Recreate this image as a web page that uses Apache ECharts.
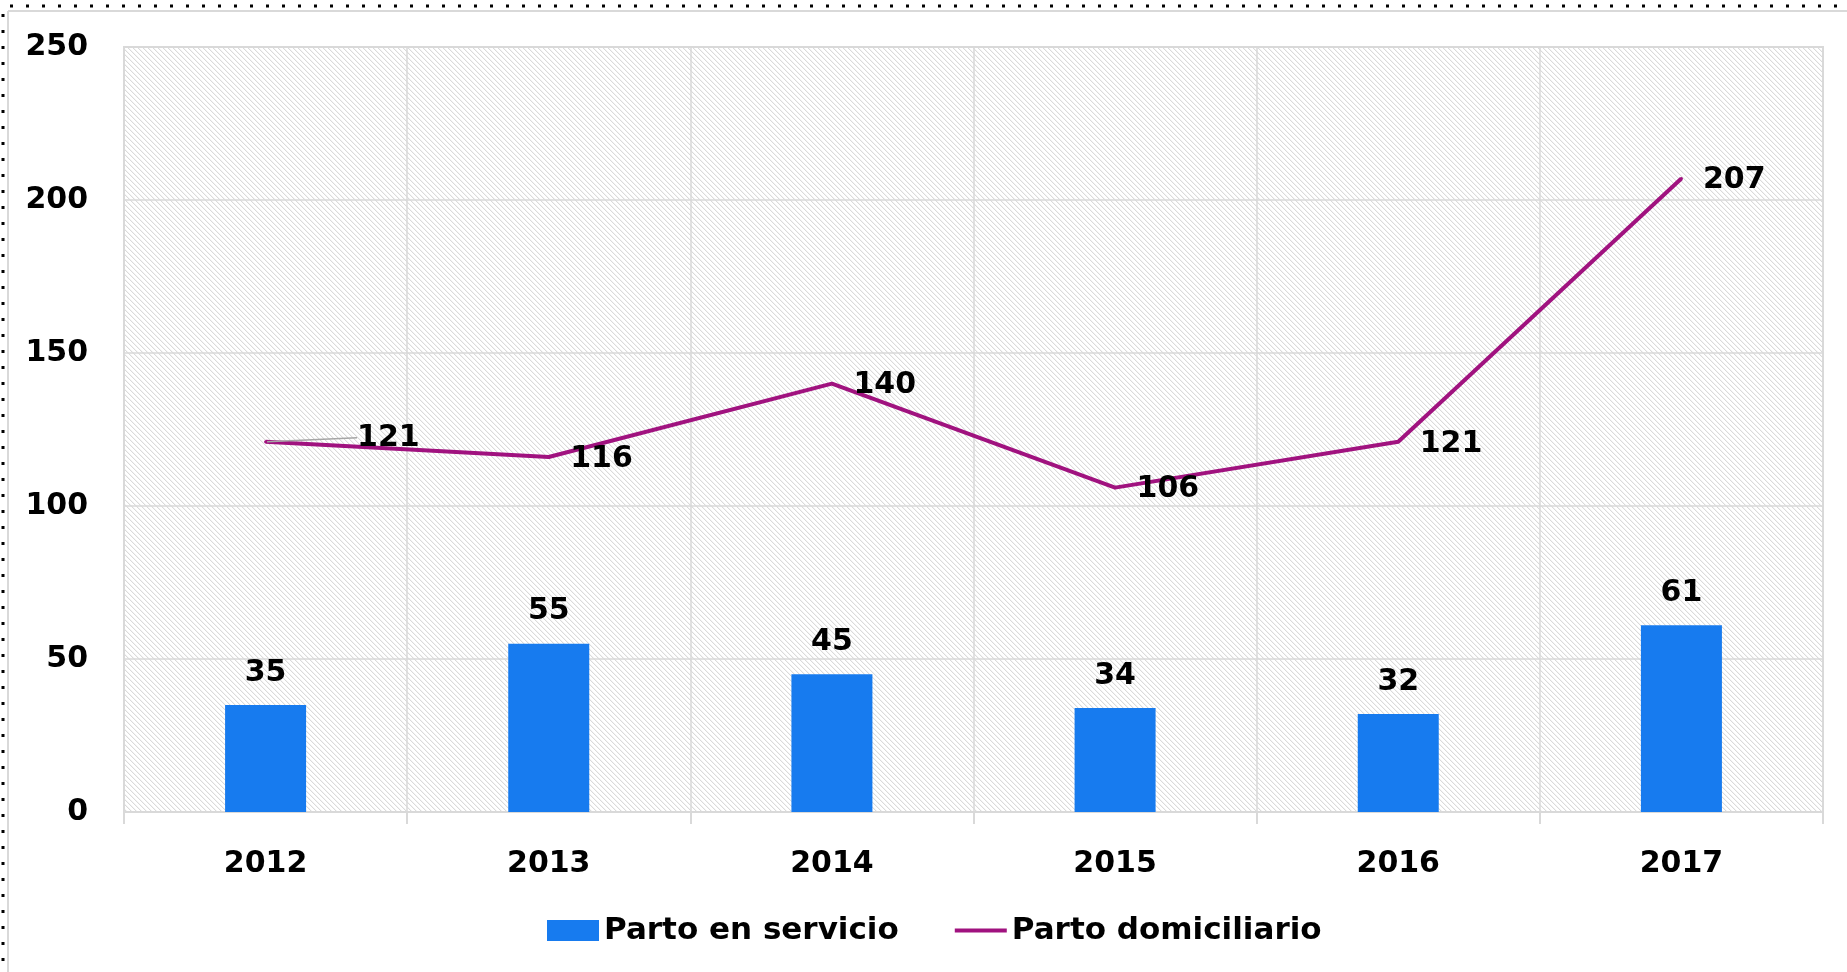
<!DOCTYPE html>
<html>
<head>
<meta charset="utf-8">
<script src="https://cdn.jsdelivr.net/npm/echarts@6/dist/echarts.min.js"></script>
<style>
    html, body { margin: 0; padding: 0; background: #fff; }
    #chart { width: 1847px; height: 972px; }
</style>
</head>
<body>
<div id="chart"></div>
<script>
    var years = ['2012', '2013', '2014', '2015', '2016', '2017'];
    var partoServicio = [35, 55, 45, 34, 32, 61];
    var partoDomiciliario = [121, 116, 140, 106, 121, 207];
    var seriesNames = ['Parto en servicio', 'Parto domiciliario'];
    var yTicks = [0, 50, 100, 150, 200, 250];

    var font = 'DejaVu Sans';
    var gridColor = '#d9d9d9';

    // hatch pattern for the plot background
    function hatch() {
        var p = 5;
        var c = document.createElement('canvas');
        c.width = p;
        c.height = p;
        var ctx = c.getContext('2d');
        ctx.fillStyle = '#fff';
        ctx.fillRect(0, 0, p, p);
        for (var i = 0; i < p; i++) {
            ctx.fillStyle = '#dadada';
            ctx.fillRect(i, i, 1, 1);
            ctx.fillStyle = '#f4f4f4';
            ctx.fillRect((i + 1) % p, i, 1, 1);
        }
        return c;
    }

    // only the first label of the line has a leader line (it was moved)
    var lineData = partoDomiciliario.map(function (v, i) {
        return {
            value: v,
            labelLine: { show: i === 0 }
        };
    });

    var myChart = echarts.init(document.getElementById('chart'));

    var option = {
        backgroundColor: '#fff',
        animation: false,
        textStyle: { fontFamily: font },
        graphic: [
            // outer dotted border
            { type: 'line', shape: { x1: 10, y1: 6, x2: 1847, y2: 6 },
              style: { stroke: '#000', lineWidth: 3, lineDash: [3, 13] } },
            { type: 'line', shape: { x1: 3, y1: 14, x2: 3, y2: 972 },
              style: { stroke: '#000', lineWidth: 3, lineDash: [3, 13] } },
            // gray frame
            { type: 'line', shape: { x1: 8, y1: 11, x2: 1847, y2: 11 },
              style: { stroke: gridColor, lineWidth: 2 } },
            { type: 'line', shape: { x1: 8, y1: 11, x2: 8, y2: 972 },
              style: { stroke: gridColor, lineWidth: 2 } }
        ],
        grid: {
            show: true,
            left: 124,
            right: 24,
            top: 47,
            bottom: 160,
            backgroundColor: { image: hatch(), repeat: 'repeat' },
            borderWidth: 2,
            borderColor: gridColor
        },
        legend: {
            left: 542,
            top: 910,
            itemWidth: 52,
            itemHeight: 21,
            itemGap: 56,
            selectedMode: false,
            textStyle: { fontFamily: font, fontWeight: 'bold', fontSize: 31, color: '#000' },
            data: [
                { name: seriesNames[0], icon: 'rect' },
                { name: seriesNames[1], icon: 'path://M0,0 L52,0 L52,4 L0,4 Z' }
            ]
        },
        xAxis: {
            type: 'category',
            data: years,
            axisLine: { lineStyle: { color: gridColor, width: 2 } },
            axisTick: { show: true, length: 12, lineStyle: { color: gridColor, width: 2 } },
            splitLine: { show: true, lineStyle: { color: gridColor, width: 1.5 } },
            axisLabel: {
                margin: 37,
                color: '#000',
                fontFamily: font,
                fontWeight: 'bold',
                fontSize: 30
            }
        },
        yAxis: {
            type: 'value',
            min: yTicks[0],
            max: yTicks[yTicks.length - 1],
            interval: 50,
            axisLine: { show: true, lineStyle: { color: gridColor, width: 2 } },
            axisTick: { show: false },
            splitLine: { lineStyle: { color: gridColor, width: 1.5 } },
            axisLabel: {
                margin: 36,
                color: '#000',
                fontFamily: font,
                fontWeight: 'bold',
                fontSize: 30
            }
        },
        series: [
            {
                name: seriesNames[0],
                type: 'bar',
                data: partoServicio,
                barWidth: 81,
                itemStyle: { color: '#177bef' },
                label: {
                    show: true,
                    position: 'top',
                    distance: 17,
                    color: '#000',
                    fontFamily: font,
                    fontWeight: 'bold',
                    fontSize: 30
                }
            },
            {
                name: seriesNames[1],
                type: 'line',
                data: lineData,
                symbol: 'circle',
                symbolSize: 3,
                itemStyle: { color: '#a0127f' },
                lineStyle: { color: '#a0127f', width: 4 },
                label: {
                    show: true,
                    position: 'right',
                    distance: 20,
                    color: '#000',
                    fontFamily: font,
                    fontWeight: 'bold',
                    fontSize: 30
                },
                labelLine: {
                    show: false,
                    lineStyle: { color: '#a6a6a6', width: 1.5 }
                },
                labelLayout: function (params) {
                    if (params.dataIndex === 0) {
                        return { dx: 70, dy: -4 };
                    }
                    return { dy: 2 };
                }
            }
        ]
    };

    myChart.setOption(option);
    window.onresize = myChart.resize;
</script>
</body>
</html>
